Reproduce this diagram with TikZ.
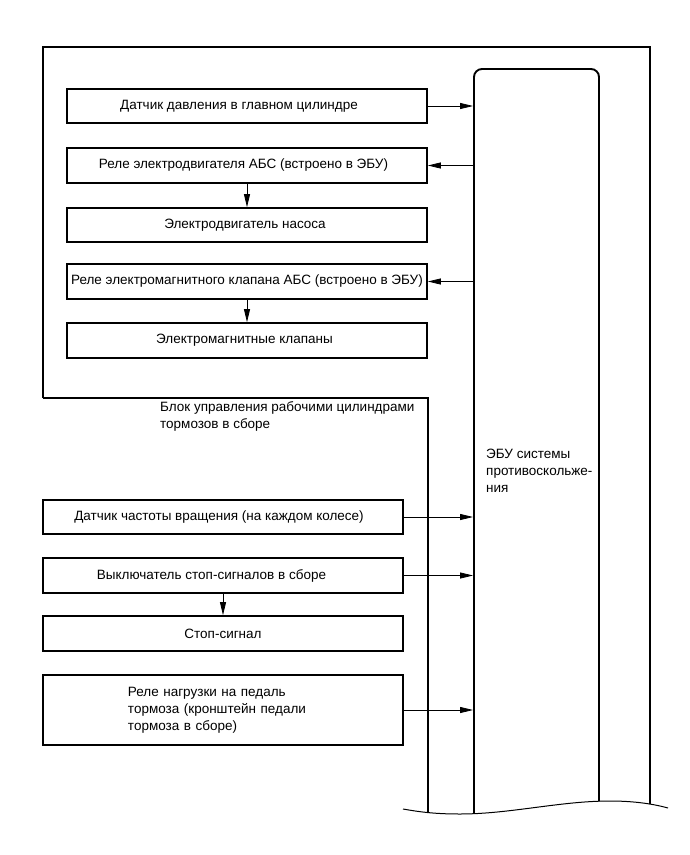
\documentclass[tikz,border=0pt]{standalone}
\usepackage{fontspec}
\setmainfont{Liberation Sans}
\usetikzlibrary{arrows.meta}
\newcommand{\tshift}[1]{\hspace*{#1}}
\begin{document}
\begin{tikzpicture}[x=1pt,y=-1pt,
  txt/.style={font=\fontsize{13.5}{17}\selectfont},
  box/.style={draw, line width=1.7pt, minimum width=360pt, inner sep=0pt, txt, align=center},
  frame/.style={line width=1.5pt},
  arr/.style={line width=0.8pt, -{Triangle[length=13pt,width=6pt]}},
  label/.style={txt, align=left, inner sep=0pt, anchor=north west}]
\useasboundingbox (0,0) rectangle (690,855);
\fill[white] (0,0) rectangle (690,855);

\begin{scope}
  \clip (0,0) -- (690,0) -- (690,808) -- (668,808)
    .. controls (650,803) and (630,801) .. (610,801)
    .. controls (560,801) and (510,814) .. (460,814)
    .. controls (435,814) and (420,812) .. (403,809)
    -- (0,809) -- cycle;
  \draw[frame] (43,398) -- (43,47) -- (650,47) -- (650,840);
  \draw[frame] (43,398) -- (428,398) -- (428,840);
  \node[draw, line width=1.9pt, rounded corners=8pt, minimum width=125pt, minimum height=771pt, inner sep=0pt] (ecu) at (536.5,454.5) {};
\end{scope}
\draw[line width=1pt] (403,809)
    .. controls (420,812) and (435,814) .. (460,814)
    .. controls (510,814) and (560,801) .. (610,801)
    .. controls (630,801) and (650,803) .. (668,808);

\node[label] (ecut) at (486,449) {ЭБУ системы\\противоскольже-\\ния};
\node[label] (blk) at (160,401) {Блок управления рабочими цилиндрами\\тормозов в сборе};

\node[box, minimum height=34pt] (b1) at (247,106) {\tshift{-16pt}Датчик давления в главном цилиндре};
\node[box, minimum height=35pt] (b2) at (247,165.5) {\tshift{-7pt}Реле электродвигателя АБС (встроено в ЭБУ)};
\node[box, minimum height=34pt] (b3) at (247,225) {\tshift{-4pt}Электродвигатель насоса};
\node[box, minimum height=35pt] (b4) at (247,281.5) {Реле электромагнитного клапана АБС (встроено в ЭБУ)};
\node[box, minimum height=35pt] (b5) at (247,340.5) {\tshift{-5pt}Электромагнитные клапаны};

\node[box, minimum height=34pt] (b6) at (223,517) {\tshift{-8pt}Датчик частоты вращения (на каждом колесе)};
\node[box, minimum height=35pt] (b7) at (223,575.5) {\tshift{-23pt}Выключатель стоп-сигналов в сборе};
\node[box, minimum height=35pt] (b8) at (223,633.5) {Стоп-сигнал};
\node[box, minimum height=70pt, text width=360pt, align=left] (b9) at (223,710) {\hspace*{85pt}\parbox[c]{220pt}{Реле нагрузки на педаль\\тормоза (кронштейн педали\\тормоза в сборе)}};

\draw[arr] (b1.east) -- (b1.east -| ecu.west);
\draw[arr] (b2.east -| ecu.west) -- (b2.east);
\draw[arr] (b4.east -| ecu.west) -- (b4.east);
\draw[arr] (b2.south) -- (b3.north);
\draw[arr] (b4.south) -- (b5.north);
\draw[arr] (b6.east) -- (b6.east -| ecu.west);
\draw[arr] (b7.east) -- (b7.east -| ecu.west);
\draw[arr] (b7.south) -- (b8.north);
\draw[arr] (b9.east) -- (b9.east -| ecu.west);
\end{tikzpicture}
\end{document}
